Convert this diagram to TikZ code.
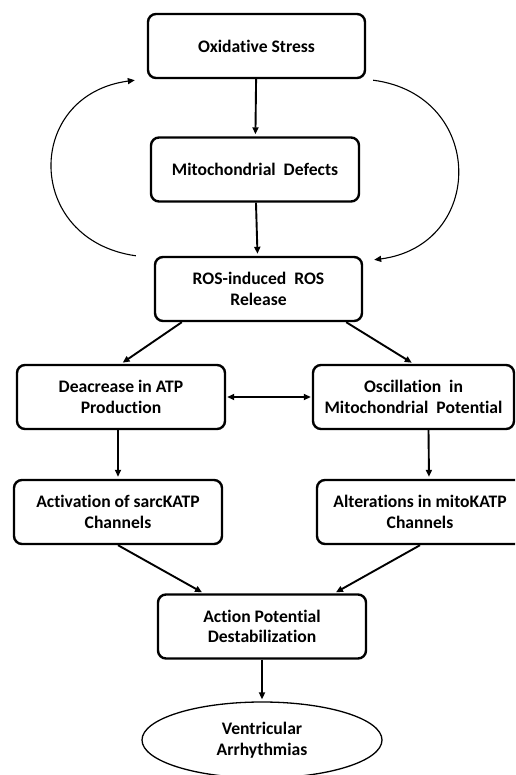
\documentclass[tikz,border=0pt]{standalone}
\usepackage{fontspec}
\setsansfont{Carlito}[Ligatures=NoCommon]
\usetikzlibrary{arrows.meta,shapes.geometric}

\begin{document}
\begin{tikzpicture}[x=1pt,y=-1pt,
    >={Triangle[length=7pt,width=6pt]},
    box/.style={draw, line width=2.4pt, rounded corners=8pt, minimum height=64pt,
        align=center, font=\sffamily\bfseries\fontsize{17.6}{20.5}\selectfont},
    link/.style={->, line width=1.9pt, shorten >=2pt},
    feedback/.style={->, line width=1.1pt}]
    \useasboundingbox (0,0) rectangle (515,775);
    \clip (0,0) rectangle (515,775);

    % Boxes
    \node[box, minimum width=217pt] (ox) at (256.5,46) {Oxidative Stress};
    \node[box, minimum width=208pt] (mito) at (255,169.5) {Mitochondrial\ \ Defects};
    \node[box, minimum width=207pt] (ros) at (258.5,289) {ROS-induced\ \ ROS\\Release};
    \node[box, minimum width=208pt] (dec) at (121,397) {Deacrease in ATP\\Production};
    \node[box, minimum width=201pt] (osc) at (413.5,397) {Oscillation\ \ in\\Mitochondrial\ \ Potential};
    \node[box, minimum width=208pt] (act) at (118,512) {Activation of sarcKATP\\Channels};
    \node[box, minimum width=206pt] (alt) at (420,512) {Alterations in mitoKATP\\Channels};
    \node[box, minimum width=208pt] (ap) at (262,626.5) {Action Potential\\Destabilization};
    \node[draw, ellipse, line width=1.3pt, minimum width=240pt, minimum height=76pt, align=center,
        font=\sffamily\bfseries\fontsize{17.6}{20.5}\selectfont] (vent) at (262,740) {Ventricular\\Arrhythmias};

    % Main chain
    \draw[link] (ox) -- (mito);
    \draw[link] (mito) -- (ros);
    \draw[link] ([xshift=28pt]ros.south west) -- (dec.north);
    \draw[link] ([xshift=-17pt]ros.south east) -- (osc.north);
    \draw[<->, line width=1.9pt, shorten <=1pt, shorten >=1pt] (dec) -- (osc);
    \draw[link] (act.north |- dec.south) -- (act.north);
    \draw[link] ([xshift=15pt]osc.south) -- ([xshift=9pt]alt.north);
    \draw[link] (act.south) -- ([xshift=47pt]ap.north west);
    \draw[link] (alt.south) -- ([xshift=-33pt]ap.north east);
    \draw[link] (ap) -- (vent);

    % Feedback loops
    \draw[feedback] ([xshift=-18pt]ros.north west)
        .. controls (24,240) and (24,95) .. ([xshift=-12pt, yshift=-1pt]ox.south west);
    \draw[feedback] ([xshift=7pt, yshift=-1pt]ox.south east)
        .. controls (486,95) and (486,245) .. ([xshift=11pt, yshift=-4pt]ros.north east);

\end{tikzpicture}
\end{document}
